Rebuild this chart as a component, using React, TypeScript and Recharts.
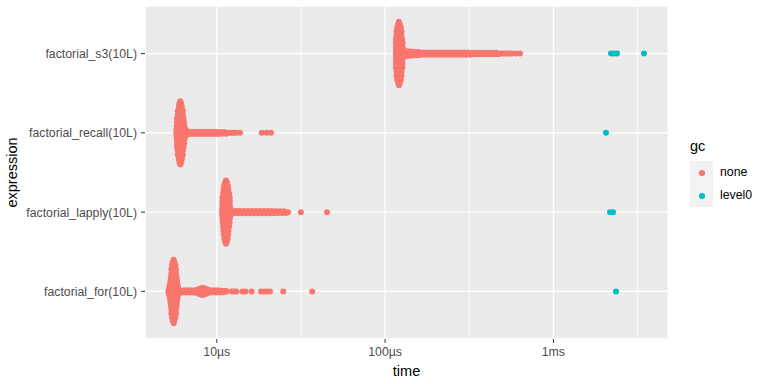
import React from 'react';
import { ScatterChart, Scatter, XAxis, YAxis, CartesianGrid, ReferenceLine, Legend } from 'recharts';

const FONT = '"Liberation Sans", Arial, sans-serif';

const expressions = [
  'factorial_for(10L)',
  'factorial_lapply(10L)',
  'factorial_recall(10L)',
  'factorial_s3(10L)',
];
const timeTicks = [10, 100, 1000];
const timeTickLabels = ['10µs', '100µs', '1ms'];
const minorTimeLines = [31.62, 316.2, 3162];
const gcLevels = ['none', 'level0'];
const gcColors = ['#F8766D', '#00BFC4'];

// [time in µs, vertical jitter within the expression row]
const forNone: [number, number][] = [
  [5.54, 0.4],
  [5.47, 0.37], [5.6, 0.37],
  [5.42, 0.33], [5.54, 0.33], [5.67, 0.33],
  [5.37, 0.28], [5.54, 0.28], [5.72, 0.28],
  [5.37, 0.23], [5.54, 0.23], [5.72, 0.23],
  [5.33, 0.18], [5.5, 0.18], [5.68, 0.18], [5.78, 0.18],
  [5.3, 0.13], [5.48, 0.13], [5.66, 0.13], [5.8, 0.13],
  [5.25, 0.08], [5.45, 0.08], [5.62, 0.08], [5.85, 0.08],
  [5.2, 0.04], [5.4, 0.04], [5.58, 0.04], [5.78, 0.04], [5.9, 0.04],
  [5.15, 0], [5.37, 0], [5.54, 0], [5.72, 0], [5.9, 0],
  [5.2, -0.04], [5.4, -0.04], [5.58, -0.04], [5.78, -0.04], [5.9, -0.04],
  [5.25, -0.08], [5.45, -0.08], [5.62, -0.08], [5.85, -0.08],
  [5.3, -0.13], [5.48, -0.13], [5.66, -0.13], [5.8, -0.13],
  [5.33, -0.18], [5.5, -0.18], [5.68, -0.18], [5.78, -0.18],
  [5.37, -0.23], [5.54, -0.23], [5.72, -0.23],
  [5.37, -0.28], [5.54, -0.28], [5.72, -0.28],
  [5.42, -0.33], [5.54, -0.33], [5.67, -0.33],
  [5.47, -0.37], [5.6, -0.37],
  [5.54, -0.4],
  [6.0, 0.015], [6.2, -0.015], [6.4, 0.015], [6.57, -0.015], [6.75, 0.015], [6.92, -0.015],
  [7.1, 0.015], [7.3, -0.015], [7.5, 0.015], [7.6, -0.015], [7.72, 0.025], [7.72, -0.025],
  [7.95, 0.035], [7.95, -0.035], [8.17, 0.045], [8.17, -0.045], [8.17, 0], [8.4, 0.04], [8.4, -0.04],
  [8.62, 0.03], [8.62, -0.03], [8.85, 0.02], [8.85, -0.02], [9.1, 0.015], [9.35, -0.015],
  [9.62, 0.015], [9.9, -0.015], [10.17, 0.015], [10.45, -0.015], [10.72, 0.01], [11.0, -0.01],
  [11.25, 0.01], [11.5, 0],
  [12.3, 0], [12.7, 0], [13.1, 0], [14.2, 0], [14.8, 0], [16.1, 0], [18.3, 0], [19.1, 0], [19.9, 0],
  [20.7, 0], [24.8, 0], [36.9, 0],
];
const forLevel0: [number, number][] = [[2355, 0]];

const lapplyNone: [number, number][] = [
  [11.34, 0.4],
  [11.2, 0.37], [11.5, 0.37],
  [11.05, 0.33], [11.34, 0.33], [11.65, 0.33],
  [10.96, 0.28], [11.34, 0.28], [11.73, 0.28],
  [10.9, 0.23], [11.25, 0.23], [11.6, 0.23], [11.85, 0.23],
  [10.8, 0.18], [11.15, 0.18], [11.55, 0.18], [11.95, 0.18],
  [10.8, 0.13], [11.15, 0.13], [11.55, 0.13], [11.95, 0.13],
  [10.8, 0.08], [11.15, 0.08], [11.55, 0.08], [11.95, 0.08],
  [10.78, 0.04], [11.12, 0.04], [11.5, 0.04], [11.9, 0.04], [12.05, 0.04],
  [10.75, 0], [11.1, 0], [11.45, 0], [11.8, 0], [12.1, 0],
  [10.78, -0.04], [11.12, -0.04], [11.5, -0.04], [11.9, -0.04], [12.05, -0.04],
  [10.8, -0.08], [11.15, -0.08], [11.55, -0.08], [11.95, -0.08],
  [10.85, -0.13], [11.2, -0.13], [11.55, -0.13], [11.9, -0.13],
  [10.9, -0.18], [11.25, -0.18], [11.6, -0.18], [11.85, -0.18],
  [10.96, -0.23], [11.34, -0.23], [11.73, -0.23],
  [11.0, -0.28], [11.34, -0.28], [11.68, -0.28],
  [11.1, -0.33], [11.34, -0.33], [11.6, -0.33],
  [11.2, -0.37], [11.5, -0.37],
  [11.34, -0.4],
  [12.31, 0.015], [12.65, -0.015], [13.0, 0.015], [13.36, -0.015], [13.73, 0.015], [14.11, -0.015],
  [14.5, 0.015], [14.9, -0.015], [15.32, 0.015], [15.75, -0.015], [16.19, 0.015], [16.64, -0.015],
  [17.1, 0.015], [17.57, -0.015], [18.06, 0.015], [18.56, -0.015], [19.07, 0.015], [19.6, -0.015],
  [20.15, 0.015], [20.7, -0.015], [21.28, 0.015], [21.87, -0.015], [22.48, 0.01], [23.1, -0.01],
  [23.74, 0.01], [24.4, -0.01], [25.08, 0.01], [25.78, -0.01], [26.49, 0],
  [31.6, 0], [45.2, 0],
];
const lapplyLevel0: [number, number][] = [[2170, 0], [2260, 0]];

const recallNone: [number, number][] = [
  [6.07, 0.4],
  [6.0, 0.37], [6.15, 0.37],
  [5.95, 0.33], [6.07, 0.33], [6.2, 0.33],
  [5.87, 0.28], [6.07, 0.28], [6.28, 0.28],
  [5.87, 0.23], [6.07, 0.23], [6.28, 0.23],
  [5.8, 0.18], [6.0, 0.18], [6.2, 0.18], [6.35, 0.18],
  [5.8, 0.13], [6.0, 0.13], [6.2, 0.13], [6.4, 0.13],
  [5.78, 0.08], [6.0, 0.08], [6.2, 0.08], [6.42, 0.08],
  [5.76, 0.04], [5.98, 0.04], [6.2, 0.04], [6.42, 0.04], [6.55, 0.04],
  [5.75, 0], [5.97, 0], [6.18, 0], [6.42, 0], [6.6, 0],
  [5.76, -0.04], [5.98, -0.04], [6.2, -0.04], [6.42, -0.04], [6.55, -0.04],
  [5.78, -0.08], [6.0, -0.08], [6.2, -0.08], [6.42, -0.08],
  [5.8, -0.13], [6.0, -0.13], [6.2, -0.13], [6.4, -0.13],
  [5.8, -0.18], [6.0, -0.18], [6.2, -0.18], [6.35, -0.18],
  [5.87, -0.23], [6.07, -0.23], [6.28, -0.23],
  [5.87, -0.28], [6.07, -0.28], [6.28, -0.28],
  [5.95, -0.33], [6.07, -0.33], [6.2, -0.33],
  [6.0, -0.37], [6.15, -0.37],
  [6.07, -0.4],
  [6.75, 0.015], [6.93, -0.015], [7.12, 0.015], [7.32, -0.015], [7.52, 0.015], [7.73, -0.015],
  [7.95, 0.015], [8.17, -0.015], [8.39, 0.015], [8.63, -0.015], [8.87, 0.015], [9.12, -0.015],
  [9.37, 0.015], [9.63, -0.015], [9.89, 0.015], [10.17, -0.015], [10.45, 0.01], [10.74, -0.01],
  [11.03, 0.01], [11.34, -0.01], [11.66, 0], [11.98, 0], [12.31, 0], [12.65, 0], [13.0, 0],
  [13.73, 0],
  [18.5, 0], [19.8, 0], [21.0, 0],
];
const recallLevel0: [number, number][] = [[2054, 0]];

const s3None: [number, number][] = [
  [120.9, 0.4],
  [119.5, 0.37], [122.3, 0.37],
  [118, 0.33], [120.9, 0.33], [124, 0.33],
  [116.9, 0.28], [120.9, 0.28], [125.1, 0.28],
  [116.9, 0.23], [120.9, 0.23], [125.1, 0.23],
  [116, 0.18], [119.5, 0.18], [123, 0.18], [126.5, 0.18],
  [116, 0.13], [119.5, 0.13], [123, 0.13], [127, 0.13],
  [116, 0.08], [119.5, 0.08], [123, 0.08], [127, 0.08],
  [116, 0.04], [119.5, 0.04], [123, 0.04], [127, 0.04], [130, 0.04],
  [116, 0], [119.5, 0], [123, 0], [127, 0], [131, 0],
  [116, -0.04], [119.5, -0.04], [123, -0.04], [127, -0.04], [130, -0.04],
  [116, -0.08], [119.5, -0.08], [123, -0.08], [127, -0.08],
  [116, -0.13], [119.5, -0.13], [123, -0.13], [127, -0.13],
  [116, -0.18], [119.5, -0.18], [123, -0.18], [126.5, -0.18],
  [116.9, -0.23], [120.9, -0.23], [125.1, -0.23],
  [116.9, -0.28], [120.9, -0.28], [125.1, -0.28],
  [118, -0.33], [120.9, -0.33], [124, -0.33],
  [119.5, -0.37], [122.3, -0.37],
  [120.9, -0.4],
  [136.8, 0.03], [136.8, -0.03], [140.6, 0], [144.5, 0.025], [144.5, -0.025], [148.5, 0],
  [152.6, 0.02], [152.6, -0.02], [156.8, 0.02], [156.8, -0.02], [161.2, 0.015], [165.7, -0.015],
  [170.3, 0.015], [175, -0.015], [179.8, 0.015], [184.8, -0.015], [190.0, 0.015], [195.2, -0.015],
  [200.6, 0.015], [206.2, -0.015], [211.9, 0.015], [217.8, -0.015], [223.8, 0.015], [230, -0.015],
  [236.4, 0.015], [243, -0.015], [249.7, 0.015], [256.6, -0.015], [263.7, 0.015], [271.1, -0.015],
  [278.6, 0.015], [286.3, -0.015], [294.3, 0.015], [302.4, -0.015], [310.8, 0.015], [319.4, -0.015],
  [328.3, 0.01], [337.4, -0.01], [346.8, 0.01], [356.4, -0.01], [366.3, 0.01], [376.4, -0.01],
  [386.9, 0.01], [397.6, -0.01], [408.7, 0.01], [420, -0.01], [431.7, 0.01], [443.7, -0.01],
  [456.0, 0.01], [468.6, -0.01], [481.6, 0], [495, 0], [508.7, 0], [522.9, 0], [537.4, 0],
  [552.3, 0], [567.6, 0], [599.5, 0], [633.3, 0],
];
const s3Level0: [number, number][] = [[2199, 0], [2291, 0], [2387, 0], [3454, 0]];

const toRows = (pts: [number, number][], row: number) =>
  pts.map(([time, jitter]) => ({ time, pos: row + jitter }));

const noneData = [
  ...toRows(forNone, 1),
  ...toRows(lapplyNone, 2),
  ...toRows(recallNone, 3),
  ...toRows(s3None, 4),
];
const level0Data = [
  ...toRows(forLevel0, 1),
  ...toRows(lapplyLevel0, 2),
  ...toRows(recallLevel0, 3),
  ...toRows(s3Level0, 4),
];

const dot = (color: string) => (props: any) => (
  <circle cx={props.cx} cy={props.cy} r={3} fill={color} />
);

const GcLegend = () => (
  <div style={{ position: 'relative', width: 100, height: 84, fontFamily: FONT }}>
    <div style={{ position: 'absolute', left: 22, top: 8, fontSize: 14.5, lineHeight: '17px', color: '#000' }}>
      gc
    </div>
    <div style={{ position: 'absolute', left: 22, top: 31, width: 23, height: 46, background: '#F2F2F2' }} />
    {gcLevels.map((level, i) => (
      <React.Fragment key={level}>
        <div
          style={{
            position: 'absolute',
            left: 31,
            top: 31 + 23 * i + 9,
            width: 5.6,
            height: 5.6,
            borderRadius: '50%',
            background: gcColors[i],
          }}
        />
        <div
          style={{
            position: 'absolute',
            left: 52,
            top: 31 + 23 * i,
            lineHeight: '23px',
            fontSize: 12.3,
            color: '#000',
          }}
        >
          {level}
        </div>
      </React.Fragment>
    ))}
  </div>
);

const yLabel = (props: any) => {
  const vb = props.viewBox;
  const x = vb.x + 16.5;
  const y = vb.y + vb.height / 2;
  return (
    <text x={x} y={y} transform={`rotate(-90 ${x} ${y})`} textAnchor="middle" fontSize={14.5} fill="#000" fontFamily={FONT}>
      expression
    </text>
  );
};

const tickStyle = { fill: '#4D4D4D', fontSize: 12.3, fontFamily: FONT };

export default function App() {
  return (
    <div style={{ position: 'absolute', left: 0, top: 0, width: 768, height: 384, background: '#fff' }}>
      <ScatterChart width={768} height={384} margin={{ top: 6, right: 0, bottom: 0, left: 0 }}>
        <CartesianGrid fill="#EBEBEB" fillOpacity={1} stroke="#FFFFFF" strokeWidth={1.3} />
        {minorTimeLines.map((t) => (
          <ReferenceLine key={t} x={t} stroke="#FFFFFF" strokeWidth={0.7} />
        ))}
        <XAxis
          dataKey="time"
          type="number"
          scale="log"
          domain={[3.745, 4797]}
          allowDataOverflow
          ticks={timeTicks}
          tickFormatter={(v: number) => timeTickLabels[timeTicks.indexOf(v)]}
          height={45}
          axisLine={false}
          stroke="#333333"
          tickSize={4}
          tickMargin={4}
          tick={tickStyle}
          label={{ value: 'time', position: 'insideBottom', offset: 8, fill: '#000', fontSize: 14.5, fontFamily: FONT }}
        />
        <YAxis
          dataKey="pos"
          type="number"
          domain={[0.4, 4.6]}
          allowDataOverflow
          ticks={[1, 2, 3, 4]}
          tickFormatter={(v: number) => expressions[v - 1]}
          width={145}
          axisLine={false}
          stroke="#333333"
          tickSize={4}
          tickMargin={4}
          tick={tickStyle}
          label={yLabel}
        />
        <Legend layout="vertical" align="right" verticalAlign="top" wrapperStyle={{ top: 130 }} content={() => <GcLegend />} />
        <Scatter name="none" data={noneData} fill={gcColors[0]} shape={dot(gcColors[0])} isAnimationActive={false} />
        <Scatter name="level0" data={level0Data} fill={gcColors[1]} shape={dot(gcColors[1])} isAnimationActive={false} />
      </ScatterChart>
    </div>
  );
}
